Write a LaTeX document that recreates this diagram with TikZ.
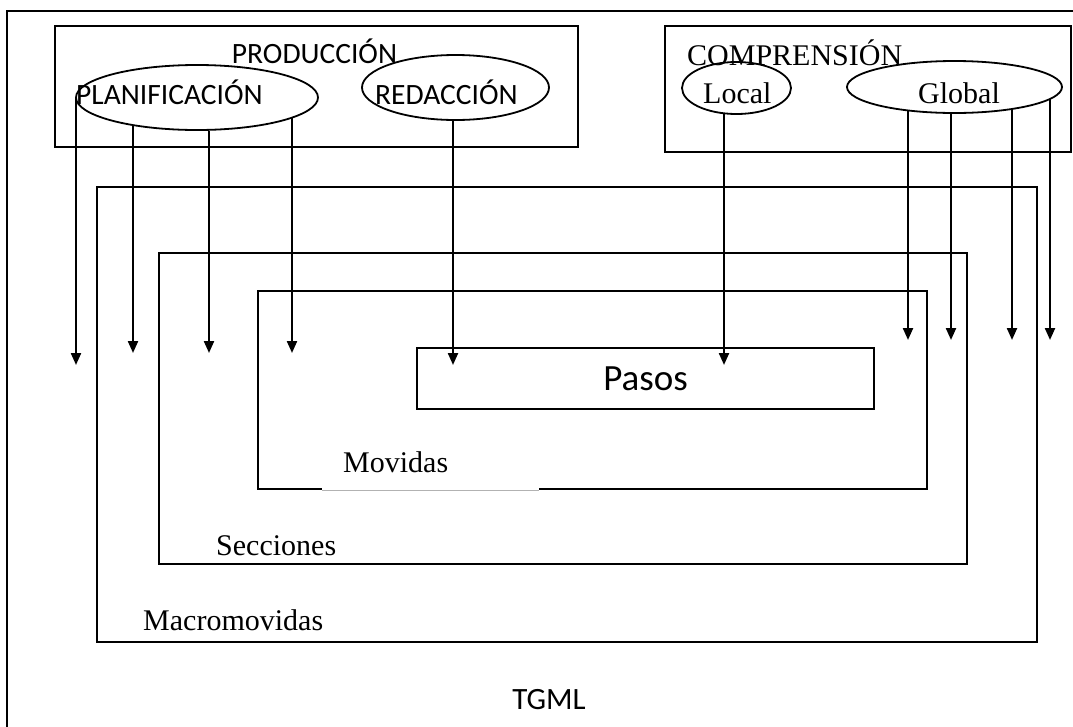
\documentclass[tikz,border=0pt]{standalone}
\usepackage{fontspec}
\setmainfont{Liberation Serif}
\newfontfamily\calibri{Carlito}
\usetikzlibrary{shapes.geometric, arrows.meta, positioning}

\begin{document}
\begin{tikzpicture}[
    x=1pt, y=-1pt,
    box/.style={rectangle, draw, line width=1.8pt, inner sep=0pt},
    oval/.style={ellipse, draw, line width=1.8pt, inner sep=0pt},
    sanslbl/.style={inner sep=0pt, font=\calibri\fontsize{29.5}{32}\selectfont},
    seriflbl/.style={inner sep=0pt, font=\fontsize{30}{32}\selectfont},
    arrow/.style={-{Triangle[length=12pt,width=10pt]}, line width=2.2pt}
]
    \useasboundingbox (0,0) rectangle (1073,726);
    \clip (0,0) rectangle (1073,726);
    \draw[line width=1.8pt] (7,740) -- (7,11) -- (1090,11);

    \node[box, minimum width=940, minimum height=455] (macro) at (567,414.5) {};
    \node[box, minimum width=808, minimum height=311] (secc) at (563,408.5) {};
    \node[box, minimum width=669, minimum height=198] (movid) at (592.5,390) {};
    \node[box, line width=2.2pt, minimum width=457, minimum height=61, font=\calibri\fontsize{37}{40}\selectfont] (pasos) at (645.5,378.5) {Pasos};
    \draw[white, line width=3pt] ([xshift=65pt]movid.south west) -- ([xshift=282pt]movid.south west);
    \draw[gray!60, line width=0.8pt] ([xshift=65pt]movid.south west) -- ([xshift=282pt]movid.south west);

    \node[box, line width=2.2pt, minimum width=523, minimum height=121] (prod) at (316.5,86.5) {};
    \node[box, minimum width=406, minimum height=126] (comp) at (868,89) {};

    \node[oval, minimum width=242, minimum height=65] (planif) at (197,97.5) {};
    \node[oval, minimum width=187, minimum height=65] (redac) at (455.5,87.5) {};
    \node[oval, minimum width=109, minimum height=52] (local) at (736.5,88) {};
    \node[oval, minimum width=215, minimum height=52] (global) at (954.5,87) {};

    \node[sanslbl, anchor=base] (prodtxt) at (314.5,63) {PRODUCCIÓN};
    \node[sanslbl, anchor=base west] (planiftxt) at (76,104) {PLANIFICACIÓN};
    \node[sanslbl, anchor=base west] (redactxt) at (375,104) {REDACCIÓN};
    \node[seriflbl, anchor=base west] (comptxt) at (687,65) {COMPRENSIÓN};
    \node[seriflbl, anchor=base west] (localtxt) at (703,103) {Local};
    \node[seriflbl, anchor=base west] (globaltxt) at (918,103) {Global};
    \node[seriflbl, anchor=base west] (movidtxt) at (343,472) {Movidas};
    \node[seriflbl, anchor=base west] (secctxt) at (216,555) {Secciones};
    \node[seriflbl, anchor=base west] (macrotxt) at (143,630) {Macromovidas};
    \node[sanslbl, anchor=base, font=\calibri\fontsize{31}{34}\selectfont] (tgml) at (549,709) {TGML};

    \coordinate (p1) at (76,365);
    \coordinate (p2) at (133,353);
    \coordinate (p3) at (209,353);
    \coordinate (p4) at (292,353);
    \coordinate (r1) at (453,365);
    \coordinate (l1) at (724,365);
    \coordinate (g1) at (908,340);
    \coordinate (g2) at (951,340);
    \coordinate (g3) at (1012,340);
    \coordinate (g4) at (1050,340);

    \draw[arrow] (p1 |- planif.west) -- (p1);
    \draw[arrow] (p2 |- planif.203) -- (p2);
    \draw[arrow] (p3 |- planif.290) -- (p3);
    \draw[arrow] (p4 |- planif.348) -- (p4);
    \draw[arrow] (r1 |- redac.264) -- (r1);
    \draw[arrow] (l1 |- local.244) -- (l1);
    \draw[arrow] (g1 |- global.207) -- (g1);
    \draw[arrow] (g2 |- global.262) -- (g2);
    \draw[arrow] (g3 |- global.339) -- (g3);
    \draw[arrow] (g4 |- global.353) -- (g4);
\end{tikzpicture}
\end{document}
